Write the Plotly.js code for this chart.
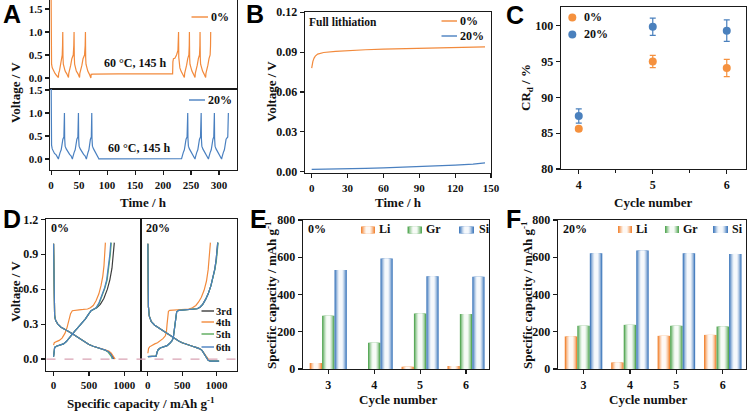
<!DOCTYPE html>
<html><head><meta charset="utf-8">
<script src="https://cdn.plot.ly/plotly-3.0.1.min.js"></script>
<style>html,body{margin:0;padding:0;background:#fff}#chart{width:748px;height:411px}</style>
</head><body><div id="chart"></div>
<script>
// ---------- Panel A: voltage vs time ----------
const A_time_0 = [0,0.3,0.8,2,4,7,9.5,12,13,
 13.5,15,17,18.5,19.8,20.4,20.8,
 21.2,21.8,23,25,28,30,31,
 31.5,33,35,37,39.5,40.5,41,
 41.4,42,43,45,48,50,50.8,
 51.3,53,55,57,59.7,60.8,61.3,
 61.7,62.3,63.5,65.5,68,70,71,
 71.5,75,120,217,
 217.5,218.5,221,224,226.5,227.2,227.6,
 228,228.6,230,232,235,237,238,
 238.5,240,242,244,246,246.7,247,
 247.4,248,249.5,251.5,254,256,257,
 257.5,259,261,263,265,265.7,266,
 266.4,267,268.5,270.5,273,275,276,
 276.5,278,280,282,284,284.7,285];
const A_volt_0 = [1.75,0.9,0.3,0.22,0.16,0.1,0.06,0.03,0.01,
 0.1,0.16,0.3,0.42,0.5,0.7,1.0,
 0.45,0.3,0.22,0.15,0.09,0.05,0.01,
 0.1,0.16,0.28,0.42,0.5,0.7,1.0,
 0.45,0.3,0.22,0.15,0.09,0.04,0.01,
 0.1,0.16,0.28,0.42,0.5,0.7,1.0,
 0.45,0.3,0.22,0.15,0.09,0.04,0.0,
 0.08,0.086,0.09,0.092,
 0.35,0.42,0.43,0.5,0.6,0.75,1.0,
 0.45,0.3,0.22,0.15,0.09,0.04,0.01,
 0.1,0.16,0.28,0.42,0.5,0.7,1.0,
 0.45,0.3,0.22,0.15,0.09,0.04,0.01,
 0.1,0.16,0.28,0.42,0.5,0.7,1.0,
 0.45,0.3,0.22,0.15,0.09,0.04,0.01,
 0.1,0.16,0.28,0.42,0.5,0.7,1.0];
const A_time_20 = [0,0.3,0.8,2,4,6,9,11.5,13,
 13.5,14.5,16,18,19.5,21,22.8,23.5,23.8,
 24.2,25,27,30,33,35.5,37,38,
 38.5,39.5,41,43,44.5,46,47.8,48.5,48.8,
 49.2,50,52,55,58,60.5,62,63,
 63.5,64.3,65.8,67.5,68.8,70.2,71.8,72.3,72.6,
 73,73.8,75.8,78.5,81,83,84.5,85.5,
 86,150,233,
 233.5,234.5,236,238,239.5,241,242.8,243.6,244,
 244.4,245.2,247,250,252.5,254.5,256,257,
 257.5,258.5,260,262,263.5,265,266.8,267.6,268,
 268.4,269.2,271,274,276.5,278.5,280,281,
 281.5,282.5,284,286,287.5,289,290.5,291.2,291.6,
 292,292.8,294.6,297.5,300,302,303.5,304.5,
 305,306,307.5,309.5,311,312.5,315.5,316.2,316.6];
const A_volt_20 = [1.75,1.0,0.3,0.22,0.17,0.12,0.09,0.05,0.0,
 0.03,0.1,0.14,0.2,0.4,0.43,0.48,0.7,1.0,
 0.45,0.28,0.22,0.15,0.1,0.07,0.02,0.0,
 0.03,0.1,0.14,0.2,0.4,0.43,0.48,0.7,1.0,
 0.45,0.28,0.22,0.15,0.1,0.07,0.02,0.0,
 0.03,0.1,0.14,0.2,0.4,0.43,0.48,0.7,1.0,
 0.45,0.28,0.22,0.15,0.1,0.06,0.02,0.0,
 0.002,0.004,0.006,
 0.03,0.1,0.14,0.2,0.4,0.43,0.48,0.7,1.0,
 0.45,0.28,0.22,0.15,0.1,0.06,0.02,0.0,
 0.03,0.1,0.14,0.2,0.4,0.43,0.48,0.7,1.0,
 0.45,0.28,0.22,0.15,0.1,0.06,0.02,0.0,
 0.03,0.1,0.14,0.2,0.4,0.43,0.48,0.7,1.0,
 0.45,0.28,0.22,0.15,0.1,0.06,0.02,0.0,
 0.03,0.1,0.14,0.2,0.4,0.43,0.48,0.7,1.0];

// ---------- Panel B: full lithiation ----------
const B_time_0 = [0,0.3,1,2,3,5,10,20,30,45,60,80,100,120,145];
const B_volt_0 = [0.078,0.080,0.083,0.0855,0.087,0.0885,0.0897,0.0905,0.0912,0.0918,0.0922,0.0927,0.0932,0.0936,0.094];
const B_time_20 = [0,15,30,45,60,75,90,105,120,135,145];
const B_volt_20 = [0.0018,0.0019,0.0022,0.0025,0.0029,0.0033,0.0038,0.0043,0.0049,0.0057,0.0066];

// ---------- Panel C: CRd ----------
const C_cycles = [4,5,6];
const C_cr_0 = [85.6,95.0,94.1];
const C_err_0 = [0.3,0.85,1.2];
const C_cr_20 = [87.4,99.85,99.3];
const C_err_20 = [1.0,1.2,1.5];

// ---------- Panel D: voltage profiles ----------
// 0 %
const D0_dis_cap_3 = [0,3,8,15,30,60,100,150,200,260,320,380,440,500,560,620,680,730,780,810,835,855];
const D0_dis_v_3   = [0.99,0.7,0.45,0.37,0.33,0.3,0.275,0.255,0.24,0.22,0.195,0.17,0.145,0.125,0.11,0.098,0.088,0.078,0.06,0.045,0.02,0.0];
const D0_chg_cap_3 = [0,5,15,40,90,140,180,210,250,300,350,400,450,500,530,560,610,660,710,760,795,825,845,858];
const D0_chg_v_3   = [0.02,0.06,0.1,0.11,0.12,0.13,0.15,0.175,0.205,0.24,0.275,0.31,0.345,0.39,0.415,0.425,0.44,0.47,0.52,0.6,0.68,0.78,0.9,1.0];
const D0_dis_cap_4 = [0,3,8,15,30,60,100,150,200,260,320,380,440,500,560,620,680,730,780,815,845,870];
const D0_dis_v_4   = [0.99,0.7,0.45,0.37,0.33,0.3,0.275,0.255,0.24,0.22,0.195,0.17,0.145,0.125,0.11,0.098,0.088,0.08,0.068,0.05,0.025,0.0];
const D0_chg_cap_4 = [0,10,40,80,120,160,190,215,240,265,300,360,420,480,520,560,600,640,670,695,712,724,732];
const D0_chg_v_4   = [0.12,0.14,0.15,0.16,0.18,0.22,0.27,0.33,0.39,0.415,0.42,0.423,0.426,0.43,0.44,0.46,0.5,0.56,0.63,0.71,0.8,0.9,1.0];
const D0_dis_cap_5 = [0,3,8,15,30,60,100,150,200,260,320,380,440,500,560,620,680,730,770,800,820,830];
const D0_dis_v_5   = [0.99,0.7,0.45,0.37,0.33,0.3,0.275,0.255,0.24,0.22,0.195,0.17,0.145,0.125,0.11,0.098,0.088,0.076,0.06,0.04,0.018,0.0];
const D0_chg_cap_5 = [0,5,15,40,90,140,180,210,250,300,350,400,450,500,530,565,605,645,685,725,757,782,802,815];
const D0_chg_v_5   = [0.02,0.06,0.1,0.11,0.12,0.13,0.15,0.175,0.205,0.24,0.275,0.31,0.345,0.39,0.415,0.425,0.44,0.48,0.54,0.61,0.68,0.78,0.9,1.0];
const D0_dis_cap_6 = [0,3,8,15,30,60,100,150,200,260,320,380,440,500,560,620,680,730,775,805,828,840];
const D0_dis_v_6   = [0.99,0.7,0.45,0.37,0.33,0.3,0.275,0.255,0.24,0.22,0.195,0.17,0.145,0.125,0.11,0.098,0.088,0.077,0.062,0.045,0.02,0.0];
const D0_chg_cap_6 = [0,5,15,40,90,140,180,210,250,300,350,400,450,500,530,560,600,640,680,720,750,775,795,808];
const D0_chg_v_6   = [0.02,0.06,0.1,0.11,0.12,0.13,0.15,0.175,0.205,0.24,0.275,0.31,0.345,0.39,0.415,0.425,0.44,0.48,0.54,0.61,0.68,0.78,0.9,1.0];
// 20 %
const D20_dis_cap_3 = [0,3,8,20,50,100,150,200,250,300,350,400,450,500,550,600,650,700,750,790,820,850,880,910,960,1010,1035];
const D20_dis_v_3   = [0.99,0.7,0.45,0.37,0.32,0.29,0.27,0.25,0.23,0.21,0.19,0.175,0.155,0.14,0.128,0.118,0.11,0.1,0.09,0.075,0.05,0.02,-0.01,-0.017,-0.016,-0.018,-0.017];
const D20_chg_cap_3 = [0,30,80,120,135,150,180,230,280,320,350,370,385,400,420,450,500,560,620,680,720,760,800,840,880,920,950,975,995,1008,1018];
const D20_chg_v_3   = [0.02,0.02,0.02,0.025,0.06,0.08,0.095,0.105,0.115,0.135,0.155,0.18,0.25,0.34,0.405,0.418,0.42,0.422,0.424,0.427,0.432,0.445,0.47,0.51,0.56,0.63,0.7,0.77,0.85,0.93,1.0];
const D20_dis_cap_4 = [0,3,8,20,50,100,150,200,250,300,350,400,450,500,550,600,650,700,750,790,820,850,880,900];
const D20_dis_v_4   = [0.99,0.7,0.45,0.37,0.32,0.29,0.27,0.25,0.23,0.21,0.19,0.175,0.155,0.14,0.128,0.118,0.11,0.1,0.09,0.075,0.05,0.02,-0.005,-0.015];
const D20_chg_cap_4 = [0,10,25,60,100,140,180,220,255,270,280,290,300,320,380,450,520,600,650,700,740,780,820,855,880,900,912];
const D20_chg_v_4   = [0.05,0.09,0.105,0.12,0.13,0.14,0.155,0.175,0.2,0.23,0.3,0.37,0.41,0.418,0.42,0.422,0.425,0.43,0.44,0.46,0.49,0.53,0.59,0.67,0.77,0.88,1.0];
const D20_dis_cap_5 = [0,3,8,20,50,100,150,200,250,300,350,400,450,500,550,600,650,700,750,790,820,850,880,910,960,1010,1040];
const D20_dis_v_5   = [0.99,0.7,0.45,0.37,0.32,0.29,0.27,0.25,0.23,0.21,0.19,0.175,0.155,0.14,0.128,0.118,0.11,0.1,0.09,0.075,0.05,0.02,-0.01,-0.017,-0.016,-0.018,-0.017];
const D20_chg_cap_5 = [0,30,80,120,135,150,180,230,280,320,350,370,385,400,420,450,500,560,620,680,720,760,800,840,880,920,950,978,1000,1015,1025];
const D20_chg_v_5   = [0.02,0.02,0.02,0.025,0.06,0.08,0.095,0.105,0.115,0.135,0.155,0.18,0.25,0.34,0.405,0.418,0.42,0.422,0.424,0.427,0.432,0.445,0.47,0.51,0.56,0.63,0.7,0.77,0.85,0.93,1.0];
const D20_dis_cap_6 = [0,3,8,20,50,100,150,200,250,300,350,400,450,500,550,600,650,700,750,790,820,850,880,910,960,1010,1040];
const D20_dis_v_6   = [0.99,0.7,0.45,0.37,0.32,0.29,0.27,0.25,0.23,0.21,0.19,0.175,0.155,0.14,0.128,0.118,0.11,0.1,0.09,0.075,0.05,0.02,-0.01,-0.017,-0.016,-0.018,-0.017];
const D20_chg_cap_6 = [0,30,80,120,135,150,180,230,280,320,350,370,385,400,420,450,500,560,620,680,720,760,800,840,880,920,950,975,995,1010,1020];
const D20_chg_v_6   = [0.02,0.02,0.02,0.025,0.06,0.08,0.095,0.105,0.115,0.135,0.155,0.18,0.25,0.34,0.405,0.418,0.42,0.422,0.424,0.427,0.432,0.445,0.47,0.51,0.56,0.63,0.7,0.77,0.85,0.93,1.0];

// ---------- Panels E, F: capacity contributions ----------
const EF_cycles = [3,4,5,6];
const E_li = [32,0,12,16];
const E_gr = [286,141,298,295];
const E_si = [532,593,498,495];
const F_li = [175,35,178,183];
const F_gr = [232,237,232,228];
const F_si = [622,636,622,618];
const EF_names = ['Li','Gr','Si'];

// ---------- styling ----------
const W=748,H=411;
const px=x=>x/W, py=y=>1-y/H;
const OR='#f28a3c', BL='#4a80c0', GR='#5aaa5a', DK='#3d3d3d';
const SERIF='"Liberation Serif", "Times New Roman", serif';
function mix(hex,t){const r=parseInt(hex.slice(1,3),16),g=parseInt(hex.slice(3,5),16),b=parseInt(hex.slice(5,7),16);
 const f=c=>Math.round(c+(255-c)*t);return `rgb(${f(r)},${f(g)},${f(b)})`;}
function ax(o){return Object.assign({showline:true,linecolor:'#1a1a1a',linewidth:1.3,mirror:true,ticks:'outside',ticklen:4,tickwidth:1.2,tickcolor:'#1a1a1a',
 showgrid:false,zeroline:false,fixedrange:true,tickfont:{family:SERIF,size:12,color:'#111',weight:'bold'}},o);}
const smallTick={family:SERIF,size:11,color:'#111',weight:'bold'};

const traces=[];
const ln=(x,y,xa,ya,c)=>({type:'scatter',mode:'lines',x:x,y:y,xaxis:xa,yaxis:ya,line:{color:c,width:1.2},showlegend:false,hoverinfo:'skip'});
traces.push(ln(A_time_0,A_volt_0,'x','y',OR));
traces.push(ln(A_time_20,A_volt_20,'x2','y2',BL));
traces.push(ln(B_time_0,B_volt_0,'x3','y3',OR));
traces.push(ln(B_time_20,B_volt_20,'x3','y3',BL));
[[C_cr_0,C_err_0,'#f5913e'],[C_cr_20,C_err_20,'#4a80bd']].forEach(([v,e,c])=>{
 traces.push({type:'scatter',mode:'markers',x:C_cycles,y:v,xaxis:'x4',yaxis:'y4',marker:{color:c,size:8},
  error_y:{type:'data',array:e,color:c,thickness:1.2,width:3},showlegend:false,hoverinfo:'skip'});
});
function cyc(dc,dv,cc,cv){return {x:dc.concat([null],cc),y:dv.concat([null],cv)};}
const D0=[[cyc(D0_dis_cap_3,D0_dis_v_3,D0_chg_cap_3,D0_chg_v_3),DK],[cyc(D0_dis_cap_4,D0_dis_v_4,D0_chg_cap_4,D0_chg_v_4),OR],
 [cyc(D0_dis_cap_5,D0_dis_v_5,D0_chg_cap_5,D0_chg_v_5),GR],[cyc(D0_dis_cap_6,D0_dis_v_6,D0_chg_cap_6,D0_chg_v_6),BL]];
const D20=[[cyc(D20_dis_cap_3,D20_dis_v_3,D20_chg_cap_3,D20_chg_v_3),DK],[cyc(D20_dis_cap_4,D20_dis_v_4,D20_chg_cap_4,D20_chg_v_4),OR],
 [cyc(D20_dis_cap_5,D20_dis_v_5,D20_chg_cap_5,D20_chg_v_5),GR],[cyc(D20_dis_cap_6,D20_dis_v_6,D20_chg_cap_6,D20_chg_v_6),BL]];
D0.forEach(([d,c])=>traces.push(ln(d.x,d.y,'x5','y5',c)));
D20.forEach(([d,c])=>traces.push(ln(d.x,d.y,'x6','y6',c)));

const layerF=[1,0.8,0.62,0.45,0.3], layerT=[0,0.35,0.62,0.82,0.95], barW=0.27;
const EFcol=[OR,GR,BL];
function bars(series,xa,ya){series.forEach((vals,si)=>{const c=(si-1)*barW;
 layerF.forEach((f,k)=>{const w=barW*f;traces.push({type:'bar',x:EF_cycles,y:vals,xaxis:xa,yaxis:ya,width:w,offset:c-w/2,
  marker:{color:mix(EFcol[si],layerT[k]),line:{width:0}},showlegend:false,hoverinfo:'skip'});});});}
bars([E_li,E_gr,E_si],'x7','y7');
bars([F_li,F_gr,F_si],'x8','y8');

// ---------- layout ----------
const xd=(a,b)=>[a/W,b/W], yd=(t,b)=>[1-b/H,1-t/H];
const shapes=[], ann=[];
const T=(text,x,y,o)=>ann.push(Object.assign({text:text,x:px(x),y:py(y),xref:'paper',yref:'paper',showarrow:false,xanchor:'center',yanchor:'middle',
 font:{family:SERIF,size:13,color:'#111',weight:'bold'}},o||{}));
const L=(x0,x1,y,c)=>shapes.push({type:'line',xref:'paper',yref:'paper',x0:px(x0),x1:px(x1),y0:py(y),y1:py(y),line:{color:c,width:1.4}});
function swatch(x0,x1,yc,h,c){layerF.forEach((f,k)=>{const w=(x1-x0)*f,m=(x0+x1)/2;
 shapes.push({type:'rect',xref:'paper',yref:'paper',x0:px(m-w/2),x1:px(m+w/2),y0:py(yc+h/2),y1:py(yc-h/2),line:{width:0},fillcolor:mix(c,layerT[k])});});}

// panel letters
[['A',1,14],['B',244,13.5],['C',504,15],['D',1,219],['E',248,219],['F',504,219]].forEach(([t,x,y])=>
 T(t,x,y,{xanchor:'left',font:{family:'"Liberation Sans", Arial, sans-serif',size:25,color:'#000',weight:'bold'}}));
// axis titles
T('Voltage / V',15,93,{textangle:-90});
T('Time / h',143,202);
T('Voltage / V',272,92,{textangle:-90});
T('Time / h',398,202);
T('CR<sub>d</sub> / %',527,88,{textangle:-90});
T('Cycle number',653,202);
T('Voltage / V',15,292,{textangle:-90});
T('Specific capacity / mAh g<sup>-1</sup>',141,403);
T('Specific capacity / mAh g<sup>-1</sup>',271,295,{textangle:-90});
T('Cycle number',398,399);
T('Specific capacity / mAh g<sup>-1</sup>',527,295,{textangle:-90});
T('Cycle number',648,399);
// inner texts
T('60 °C, 145 h',135,63,{font:{family:SERIF,size:12,color:'#111',weight:'bold'}});
T('60 °C, 145 h',139,148,{font:{family:SERIF,size:12,color:'#111',weight:'bold'}});
const lt=(t,x,y,s)=>T(t,x,y,{xanchor:'left',font:{family:SERIF,size:s||12,color:'#111',weight:'bold'}});
lt('0%',209,17); L(191.5,208,17,OR);
lt('20%',206,100); L(189,205,100,BL);
lt('Full lithiation',307,22,11.5);
lt('0%',458,21); L(441.5,457,21,OR);
lt('20%',458,36); L(441.5,457,36,BL);
lt('0%',582,17); lt('20%',582,34);
shapes.push({type:'circle',xref:'paper',yref:'paper',x0:px(568.3),x1:px(576.3),y0:py(21.5),y1:py(13.5),fillcolor:'#f5913e',line:{width:0}});
shapes.push({type:'circle',xref:'paper',yref:'paper',x0:px(568.3),x1:px(576.3),y0:py(38.5),y1:py(30.5),fillcolor:'#4a80bd',line:{width:0}});
lt('0%',49,228); lt('20%',144,228);
[['3rd',311,DK],['4th',322,OR],['5th',334,GR],['6th',347,BL]].forEach(([t,y,c])=>{lt(t,214.5,y,10.5);L(201.5,214,y,c);});
shapes.push({type:'line',xref:'paper',yref:'y5',x0:px(46.5),x1:px(236.5),y0:0,y1:0,line:{color:'#d9a3b4',width:1.3,dash:'dash'}});
lt('0%',306,229);
[['Li',361,375,377],['Gr',407.5,422,424],['Si',459,474,476.5]].forEach(([t,a,b,tx],i)=>{swatch(a,b,230,7,EFcol[i]);lt(t,tx,229);});
lt('20%',561,229);
[['Li',618,632,633.5],['Gr',665,679,680.5],['Si',713,728,730]].forEach(([t,a,b,tx],i)=>{swatch(a,b,229.5,7,EFcol[i]);lt(t,tx,229);});

const layout={width:W,height:H,margin:{l:0,r:0,t:0,b:0},paper_bgcolor:'#fff',plot_bgcolor:'#fff',barmode:'overlay',showlegend:false,
 xaxis:ax({domain:xd(50,237),range:[-2,332],anchor:'y',showticklabels:false,ticks:'',mirror:false}),
 yaxis:ax({domain:yd(0,89),range:[-0.239,1.696],anchor:'x',tickvals:[0,0.5,1,1.5],tickformat:'.1f',tickfont:smallTick}),
 xaxis2:ax({domain:xd(50,237),range:[-2,332],anchor:'y2',dtick:50,tick0:0,tickfont:smallTick}),
 yaxis2:ax({domain:yd(89,170),range:[-0.239,1.522],anchor:'x2',tickvals:[0,0.5,1,1.5],tickformat:'.1f',tickfont:smallTick}),
 xaxis3:ax({domain:xd(305,491),range:[-5.6,150],anchor:'y3',dtick:30,tick0:0,tickfont:smallTick}),
 yaxis3:ax({domain:yd(12,173),range:[-0.001,0.1202],anchor:'x3',dtick:0.03,tick0:0,tickformat:'.2f'}),
 xaxis4:ax({domain:xd(561,746),range:[3.76,6.26],anchor:'y4',tickvals:[4,5,6],minor:{tickvals:[4.5,5.5],ticks:'outside',ticklen:3,tickcolor:'#1a1a1a'}}),
 yaxis4:ax({domain:yd(7,169),range:[80,102.6],anchor:'x4',dtick:5,tick0:80}),
 xaxis5:ax({domain:xd(46,141.7),range:[-107,1245],anchor:'y5',tickvals:[0,500,1000],tickfont:smallTick}),
 yaxis5:ax({domain:yd(219.3,370.7),range:[-0.1,1.2],anchor:'x5',dtick:0.3,tick0:0,tickformat:'.1f',mirror:false}),
 xaxis6:ax({domain:xd(141.7,237),range:[-90,1300],anchor:'y6',tickvals:[0,500,1000],tickfont:smallTick}),
 yaxis6:ax({domain:yd(219.3,370.7),range:[-0.1,1.2],anchor:'x6',showticklabels:false,ticks:''}),
 xaxis7:ax({domain:xd(303,489),range:[2.45,6.5],anchor:'y7',tickvals:EF_cycles}),
 yaxis7:ax({domain:yd(220,369),range:[0,800],anchor:'x7',dtick:200}),
 xaxis8:ax({domain:xd(558,746),range:[2.45,6.5],anchor:'y8',tickvals:EF_cycles}),
 yaxis8:ax({domain:yd(220,369),range:[0,800],anchor:'x8',dtick:200}),
 shapes:shapes,annotations:ann};
Plotly.newPlot('chart',traces,layout,{staticPlot:true,displayModeBar:false});
</script></body></html>
